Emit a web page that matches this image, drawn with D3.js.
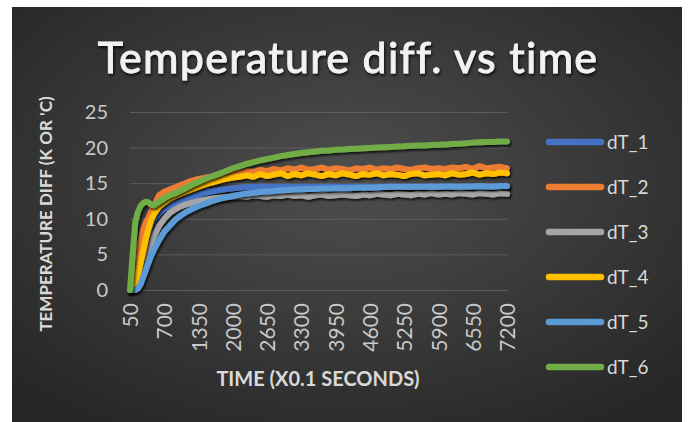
<!DOCTYPE html>
<html>
<head>
<meta charset="utf-8">
<script src="https://cdn.jsdelivr.net/npm/d3@7"></script>
<style>
  body { margin: 0; background: #ffffff; }
  svg { display: block; }
</style>
</head>
<body>
<script>
// time in units of 0.1 s
var times = [50, 100, 150, 200, 250, 300, 350, 400, 450, 500, 600, 700, 800, 900, 1000, 1100, 1200, 1350, 1500, 1650, 1800, 2000,
  2130, 2260, 2390, 2520, 2650, 2780, 2910, 3040, 3170, 3300, 3430, 3560, 3690, 3820, 3950, 4080, 4210, 4340, 4470, 4600,
  4730, 4860, 4990, 5120, 5250, 5380, 5510, 5640, 5770, 5900, 6030, 6160, 6290, 6420, 6550, 6680, 6810, 6940, 7070, 7200];

var dT_1 = [0, 0.1, 0.6, 2, 3.5, 5, 6.5, 7.8, 9, 9.8, 10.8, 11.4, 11.8, 12.1, 12.4, 12.7, 13.0, 13.4, 13.7, 13.9, 14.1, 14.3,
  14.4, 14.45, 14.5, 14.5, 14.5, 14.45, 14.5, 14.5, 14.45, 14.5, 14.5, 14.45, 14.5, 14.5, 14.5, 14.45, 14.5, 14.5, 14.5, 14.45,
  14.5, 14.5, 14.5, 14.45, 14.5, 14.5, 14.5, 14.5, 14.45, 14.5, 14.5, 14.5, 14.5, 14.45, 14.5, 14.5, 14.5, 14.5, 14.5, 14.5];
var dT_2 = [0, 0.5, 2.5, 5, 7, 8.5, 9.5, 10.2, 11, 11.8, 13.3, 13.8, 14.1, 14.4, 14.7, 15.0, 15.3, 15.6, 15.8, 16.0, 16.2, 16.4,
  16.5, 16.7, 16.6, 16.9, 16.7, 17.0, 16.8, 17.1, 16.9, 17.2, 16.9, 17.0, 17.2, 16.9, 17.1, 17.0, 16.8, 17.1, 17.0, 17.2,
  16.9, 17.1, 17.0, 17.2, 17.0, 16.9, 17.1, 17.2, 17.0, 17.1, 17.0, 17.2, 17.1, 17.3, 17.0, 17.4, 17.1, 17.2, 17.3, 17.1];
var dT_3 = [0, 0, 0.2, 0.8, 1.8, 3, 4.3, 5.5, 6.6, 7.5, 9.0, 10.0, 10.8, 11.3, 11.7, 12.0, 12.2, 12.5, 12.7, 12.9, 13.0, 13.1,
  13.2, 13.1, 13.3, 13.2, 13.1, 13.3, 13.2, 13.4, 13.2, 13.3, 13.1, 13.3, 13.4, 13.2, 13.3, 13.4, 13.3, 13.2, 13.4, 13.3,
  13.5, 13.4, 13.3, 13.5, 13.4, 13.3, 13.5, 13.4, 13.6, 13.4, 13.5, 13.4, 13.6, 13.5, 13.4, 13.6, 13.5, 13.4, 13.6, 13.5];
var dT_4 = [0, 0.2, 1, 2.2, 3.8, 5.5, 7.2, 8.6, 9.8, 10.6, 11.7, 12.3, 12.8, 13.2, 13.5, 13.8, 14.1, 14.5, 14.9, 15.2, 15.5, 15.8,
  15.9, 16.1, 15.9, 16.3, 16.0, 16.2, 16.4, 16.0, 16.3, 16.1, 16.4, 16.2, 16.0, 16.3, 16.1, 16.4, 16.2, 16.0, 16.3, 16.2,
  16.4, 16.1, 16.3, 16.2, 16.0, 16.3, 16.4, 16.1, 16.2, 16.3, 16.1, 16.4, 16.2, 16.3, 16.5, 16.2, 16.4, 16.3, 16.5, 16.4];
var dT_5 = [0, 0, 0, 0.2, 0.8, 1.8, 2.8, 3.8, 4.8, 5.6, 7.0, 8.2, 9.0, 9.8, 10.4, 10.9, 11.3, 11.8, 12.2, 12.6, 12.9, 13.2,
  13.4, 13.55, 13.65, 13.75, 13.85, 13.9, 14.0, 14.05, 14.1, 14.15, 14.2, 14.2, 14.25, 14.25, 14.3, 14.3, 14.3, 14.35, 14.35, 14.35,
  14.4, 14.45, 14.5, 14.5, 14.5, 14.5, 14.5, 14.5, 14.55, 14.5, 14.55, 14.55, 14.5, 14.55, 14.55, 14.6, 14.55, 14.55, 14.6, 14.6];
var dT_6 = [0, 5, 9.5, 11, 11.8, 12.2, 12.4, 12.3, 12.0, 11.9, 12.4, 12.9, 13.3, 13.6, 13.95, 14.3, 14.7, 15.2, 15.7, 16.1, 16.5, 17.1,
  17.4, 17.7, 17.95, 18.2, 18.4, 18.6, 18.8, 18.95, 19.1, 19.25, 19.35, 19.45, 19.55, 19.6, 19.7, 19.75, 19.8, 19.85, 19.9, 19.95,
  20.0, 20.05, 20.1, 20.15, 20.2, 20.25, 20.3, 20.3, 20.35, 20.4, 20.45, 20.5, 20.55, 20.6, 20.7, 20.75, 20.8, 20.8, 20.85, 20.85];

var seriesNames = ['dT_1', 'dT_2', 'dT_3', 'dT_4', 'dT_5', 'dT_6'];
var seriesValues = [dT_1, dT_2, dT_3, dT_4, dT_5, dT_6];
var colors = ['#4472C4', '#ED7D31', '#A5A5A5', '#FFC000', '#5B9BD5', '#70AD47'];

var xTicks = [50, 700, 1350, 2000, 2650, 3300, 3950, 4600, 5250, 5900, 6550, 7200];
var yTicks = [0, 5, 10, 15, 20, 25];

var width = 688, height = 422;
var plot = {left: 130, right: 507, top: 112, bottom: 290};
var font = "Lato, 'Open Sans', sans-serif";

var svg = d3.select("body").append("svg").attr("width", width).attr("height", height);
var defs = svg.append("defs");

var grad = defs.append("radialGradient").attr("id", "bg")
  .attr("cx", "50%").attr("cy", "42%").attr("r", "70%");
grad.append("stop").attr("offset", "0%").attr("stop-color", "#4e4e4e");
grad.append("stop").attr("offset", "100%").attr("stop-color", "#262626");

var shadow = defs.append("filter").attr("id", "shadow")
  .attr("x", "-10%").attr("y", "-10%").attr("width", "130%").attr("height", "130%");
shadow.append("feDropShadow").attr("dx", 1.5).attr("dy", 2).attr("stdDeviation", 1.2)
  .attr("flood-color", "#000").attr("flood-opacity", 0.75);

var textShadow = defs.append("filter").attr("id", "tshadow")
  .attr("x", "-10%").attr("y", "-20%").attr("width", "120%").attr("height", "150%");
textShadow.append("feDropShadow").attr("dx", 1).attr("dy", 2).attr("stdDeviation", 1.5)
  .attr("flood-color", "#000").attr("flood-opacity", 0.8);

svg.append("rect").attr("x", 12).attr("y", 7).attr("width", 670).attr("height", 415)
  .attr("fill", "url(#bg)");

var x = d3.scaleLinear().domain([50, 7200]).range([plot.left, plot.right]);
var y = d3.scaleLinear().domain([0, 25]).range([plot.bottom, plot.top]);

// gridlines
svg.append("g").attr("class", "grid")
  .attr("transform", "translate(" + plot.left + ",0)")
  .call(d3.axisLeft(y).tickValues(yTicks).tickSize(-(plot.right - plot.left + 1)).tickFormat(""))
  .call(function (g) {
    g.select(".domain").remove();
    g.selectAll("line").attr("stroke", "#5c5c5c").attr("stroke-width", 1);
  });

// y axis labels
svg.append("g").attr("class", "axis y")
  .attr("transform", "translate(" + plot.left + ",0)")
  .call(d3.axisLeft(y).tickValues(yTicks).tickSize(0).tickPadding(22))
  .call(function (g) {
    g.select(".domain").remove();
    g.selectAll("text").attr("fill", "#c8c8c8")
      .style("font-family", font).style("font-size", "20px");
  });

// x axis labels
svg.append("g").attr("class", "axis x")
  .attr("transform", "translate(0," + plot.bottom + ")")
  .call(d3.axisBottom(x).tickValues(xTicks).tickSize(0).tickFormat(d3.format("d")))
  .call(function (g) {
    g.select(".domain").remove();
    g.selectAll("text")
      .attr("transform", "rotate(-90)")
      .attr("x", -13).attr("y", 0).attr("dy", "0.36em")
      .style("text-anchor", "end")
      .attr("fill", "#c8c8c8")
      .style("font-family", font).style("font-size", "21px");
  });

// series lines
var line = d3.line()
  .x(function (d, i) { return x(times[i]); })
  .y(function (d) { return y(d); });

svg.append("g").attr("class", "lines")
  .selectAll("path").data(seriesValues).enter().append("path")
  .attr("d", line)
  .attr("fill", "none")
  .attr("stroke", function (d, i) { return colors[i]; })
  .attr("stroke-width", 6)
  .attr("stroke-linejoin", "round")
  .attr("stroke-linecap", "round")
  .attr("filter", "url(#shadow)");

// title
svg.append("text")
  .attr("x", 348).attr("y", 73)
  .attr("text-anchor", "middle")
  .attr("fill", "#f2f2f2")
  .attr("stroke", "#f2f2f2")
  .attr("stroke-width", 0.9)
  .attr("filter", "url(#tshadow)")
  .style("font-family", font)
  .style("font-size", "43px")
  .style("letter-spacing", "1.3px")
  .text("Temperature diff. vs time");

// axis titles
svg.append("text")
  .attr("transform", "translate(52,214) rotate(-90)")
  .attr("text-anchor", "middle")
  .attr("fill", "#d9d9d9")
  .style("font-family", font)
  .style("font-weight", "bold")
  .style("font-size", "17px")
  .text("TEMPERATURE DIFF (K OR 'C)");

svg.append("text")
  .attr("x", 318).attr("y", 386)
  .attr("text-anchor", "middle")
  .attr("fill", "#d9d9d9")
  .style("font-family", font)
  .style("font-weight", "bold")
  .style("font-size", "20px")
  .text("TIME (X0.1 SECONDS)");

// legend
var legend = svg.append("g").attr("class", "legend")
  .selectAll("g").data(seriesNames).enter().append("g")
  .attr("transform", function (d, i) { return "translate(0," + (142 + i * 45) + ")"; });

legend.append("line")
  .attr("x1", 549).attr("x2", 601).attr("y1", 0).attr("y2", 0)
  .attr("stroke", function (d, i) { return colors[i]; })
  .attr("stroke-width", 6.5)
  .attr("stroke-linecap", "round");

legend.append("text")
  .attr("x", 607).attr("y", 0).attr("dy", "0.35em")
  .attr("fill", "#d9d9d9")
  .style("font-family", font)
  .style("font-size", "19px")
  .text(function (d) { return d; });
</script>
</body>
</html>
